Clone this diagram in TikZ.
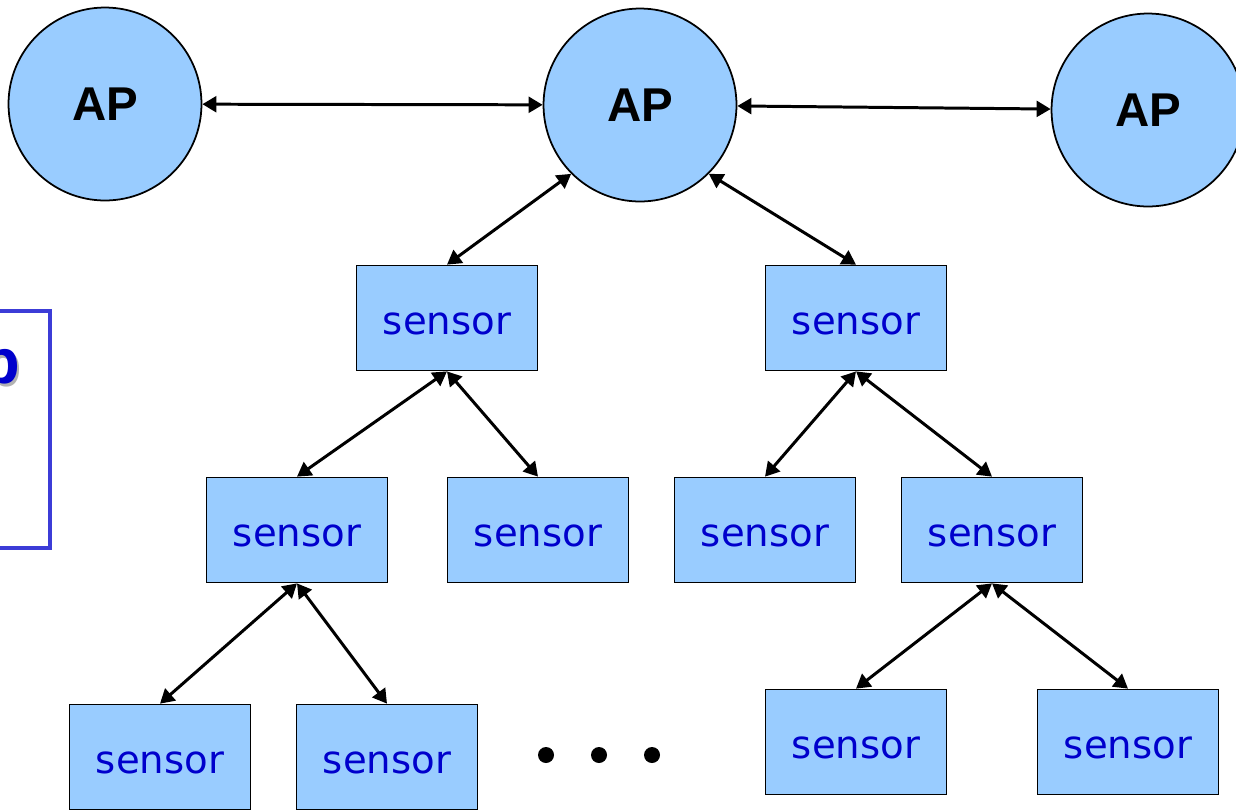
\documentclass[tikz,border=0pt]{standalone}
\usepackage{fontspec}
\newfontfamily\apfont{Liberation Sans}
\newfontfamily\sensorfont{DejaVu Sans}
\usetikzlibrary{arrows.meta}

\definecolor{nodeblue}{RGB}{153,204,255}
\definecolor{textblue}{RGB}{0,0,204}
\definecolor{frameblue}{RGB}{60,60,215}

\begin{document}
\begin{tikzpicture}[x=0.02cm, y=-0.02cm, >={Triangle[length=8pt,width=9pt]},
    ap/.style={circle, draw, line width=1pt, fill=nodeblue, minimum size=3.86cm, inner sep=0pt,
        font=\apfont\bfseries\fontsize{27}{30}\selectfont},
    sensorbox/.style={rectangle, draw, line width=1pt, fill=nodeblue, minimum width=3.62cm,
        minimum height=2.1cm, inner sep=0pt, text height=18.8pt, text depth=0pt,
        text=textblue, font=\sensorfont\fontsize{22}{24}\selectfont},
    link/.style={<->, line width=1.7pt}]
    % Page
    \clip (0,0) rectangle (1236,809);

    % Group frame, cut at the left edge
    \draw[frameblue, line width=1.8pt] (-40,311) rectangle (50,548);
    \node[anchor=base east, inner sep=0pt, text=gray!60, font=\apfont\bfseries\fontsize{36}{40}\selectfont] (grpshadow) at (22,386) {p};
    \node[anchor=base east, inner sep=0pt, text=textblue, font=\apfont\bfseries\fontsize{36}{40}\selectfont] (grp) at (20,383) {p};

    % Access points
    \node[ap] (ap1) at (105,104) {AP};
    \node[ap] (ap2) at (640,105) {AP};
    \node[ap] (ap3) at (1148,110) {AP};

    % Sensors
    \node[sensorbox] (s1) at (447,318) {sensor};
    \node[sensorbox] (s2) at (856,318) {sensor};
    \node[sensorbox] (s3) at (297,530) {sensor};
    \node[sensorbox] (s4) at (538,530) {sensor};
    \node[sensorbox] (s5) at (765,530) {sensor};
    \node[sensorbox] (s6) at (992,530) {sensor};
    \node[sensorbox] (s7) at (160,757) {sensor};
    \node[sensorbox] (s8) at (387,757) {sensor};
    \node[sensorbox] (s9) at (856,742) {sensor};
    \node[sensorbox] (s10) at (1128,742) {sensor};

    % Links between access points
    \draw[link] (ap1) -- (ap2);
    \draw[link] (ap2) -- (ap3);

    % Tree links
    \draw[link] (ap2.225) -- (s1.north);
    \draw[link] (ap2.315) -- (s2.north);
    \foreach \a/\b in {s1/s3, s1/s4, s2/s5, s2/s6, s3/s7, s3/s8, s6/s9, s6/s10} {
        \draw[link] (\a.south) -- (\b.north);
    }

    % More sensors
    \foreach \x in {546,599,652} {
        \fill (\x,755) circle (8);
    }
\end{tikzpicture}
\end{document}
